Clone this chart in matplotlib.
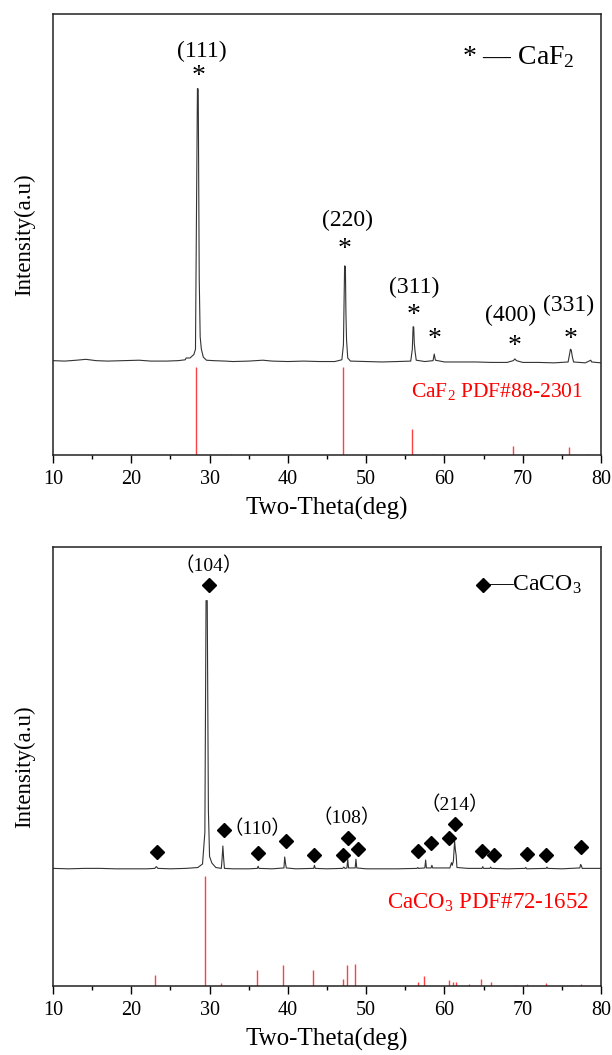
import numpy as np
import matplotlib
matplotlib.use("Agg")
import matplotlib.pyplot as plt
from matplotlib.ticker import MultipleLocator

plt.rcParams["font.family"] = ["Liberation Serif", "Noto Sans CJK SC"]
plt.rcParams["mathtext.fontset"] = "custom"
plt.rcParams["mathtext.rm"] = "Liberation Serif"
plt.rcParams["mathtext.it"] = "Liberation Serif"

# ---- CaF2 pattern (two-theta, intensity) ----
caf2_x = [10.0, 11.5, 13.0, 14.2, 15.5, 17.0, 19.0, 21.0, 22.5, 24.5, 26.0, 26.9, 27.0, 27.5,
          28.0, 28.2, 28.35, 28.45, 28.55, 28.68, 28.8, 28.95, 29.2, 29.6,
          30.5, 32.0, 33.0, 35.0, 36.8, 38.0, 40.0, 42.0, 44.0, 46.0, 46.9,
          47.1, 47.25, 47.35, 47.42, 47.5, 47.65, 48.0, 50.0, 52.0, 54.0, 55.7,
          55.9, 56.0, 56.08, 56.15, 56.25, 56.4, 57.5, 58.55, 58.7, 58.85,
          60.0, 62.0, 64.0, 66.0, 68.0, 68.8, 69.0, 69.2, 70.0, 72.0, 74.0,
          75.8, 76.0, 76.1, 76.2, 76.35, 76.5, 78.0, 78.7, 78.8, 80.0]
caf2_y = [21.4, 21.3, 21.5, 21.7, 21.4, 21.3, 21.4, 21.5, 21.3, 21.3, 21.4, 21.6, 22.0, 22.0,
          22.8, 24.0, 60.0, 83.1, 83.0, 40.0, 26.8, 24.0, 22.2, 21.5,
          21.4, 21.3, 21.2, 21.3, 21.5, 21.3, 21.2, 21.3, 21.2, 21.2, 21.6,
          25.0, 42.9, 42.7, 32.0, 26.0, 22.0, 21.3, 21.2, 21.1, 21.2, 21.3,
          24.0, 29.1, 29.0, 25.4, 23.5, 21.5, 21.2, 21.4, 22.9, 21.5,
          21.1, 21.1, 21.1, 21.0, 21.0, 21.4, 21.8, 21.4, 21.0, 21.0, 20.9,
          21.1, 23.0, 24.0, 23.8, 22.2, 21.1, 20.9, 21.5, 21.1, 20.9]

# CaF2 PDF#88-2301 reference lines
caf2_ref_x = [28.26, 32.8, 47.07, 55.8, 58.5, 68.77, 75.9, 78.2]
caf2_ref_h = [19.9, 0.3, 19.9, 5.9, 0.3, 2.0, 1.9, 0.3]

caf2_hkl = ["(111)", "(220)", "(311)", "(400)", "(331)"]
caf2_hkl_x = [28.96, 47.57, 56.15, 68.5, 75.9]
caf2_hkl_y = [91.6, 53.2, 38.0, 31.7, 34.0]
caf2_star_x = [28.6, 47.27, 56.0, 58.7, 69.0, 76.1]
caf2_star_y = [85.9, 46.5, 31.7, 26.1, 24.6, 26.3]

# ---- CaCO3 pattern ----
caco3_x = [10, 12, 14, 16, 18, 20, 22, 23.0, 23.2, 23.4, 25, 27, 28.5, 29.1, 29.4, 29.55,
           29.7, 29.85, 30.0, 30.3, 30.8, 31.5, 31.6, 31.7, 31.8, 31.9, 33, 35, 36.1,
           36.2, 36.3, 38, 39.5, 39.6, 39.7, 39.8, 41, 43.3, 43.4, 43.5, 45, 47.0, 47.15,
           47.3, 47.55, 47.65, 47.75, 48.6, 48.7, 48.8, 50, 52, 54, 56.5, 56.6, 56.7,
           57.5, 57.6, 57.7, 58.3, 58.4, 58.5, 60.7, 60.9, 61.0, 61.15, 61.3, 61.4,
           61.5, 61.6, 63, 64.8, 64.9, 65.0, 65.8, 65.9, 66.0, 68, 70.3, 70.4, 70.5,
           73.0, 73.1, 73.2, 75, 77.3, 77.4, 77.5, 77.6, 80]
caco3_y = [26.8, 26.7, 26.8, 26.8, 26.7, 26.7, 26.7, 26.8, 27.2, 26.8, 26.7, 26.8, 27.0, 27.8, 35.0, 87.8,
           87.8, 40.0, 29.5, 28.0, 27.0, 26.8, 29.0, 31.9, 29.0, 26.8, 26.7, 26.7, 26.8,
           27.3, 26.8, 26.7, 26.9, 29.4, 28.0, 26.9, 26.7, 26.8, 27.5, 26.8, 26.7, 26.8, 27.1,
           26.8, 26.9, 28.9, 26.9, 26.9, 28.9, 26.9, 26.7, 26.7, 26.7, 26.8, 27.0, 26.8,
           26.9, 28.7, 26.9, 26.9, 27.5, 26.9, 26.9, 28.1, 27.5, 28.5, 33.0, 31.0,
           29.8, 27.0, 26.8, 26.8, 27.2, 26.8, 26.8, 27.1, 26.8, 26.7, 26.8, 27.0, 26.7,
           26.8, 27.1, 26.8, 26.7, 26.9, 27.7, 27.4, 26.8, 26.8]

# CaCO3 PDF#72-1652 reference lines
caco3_ref_x = [23.0, 29.4, 31.5, 36.0, 39.4, 43.2, 47.1, 47.6, 48.6, 56.6, 57.4, 60.6,
               61.1, 61.5, 63.1, 64.7, 65.9, 69.2, 70.5, 73.0, 76.2, 77.4]
caco3_ref_h = [2.4, 25.1, 0.6, 3.6, 4.7, 3.7, 1.7, 4.7, 4.9, 0.8, 2.3, 1.3,
               0.8, 0.8, 0.4, 1.5, 0.8, 0.3, 0.45, 0.6, 0.3, 0.4]

caco3_dia_x = [23.3, 29.9, 31.8, 36.2, 39.75, 43.4, 47.0, 47.7, 49.0, 56.6, 58.3,
               60.6, 61.4, 64.8, 66.3, 70.6, 73.0, 77.4]
caco3_dia_y = [30.5, 91.3, 35.6, 30.3, 33.0, 29.9, 29.9, 33.8, 31.2, 30.7, 32.6,
               33.8, 36.8, 30.7, 29.9, 30.1, 29.9, 31.6]
caco3_hkl = ["（104）", "（110）", "（108）", "（214）"]
caco3_hkl_x = [29.9, 36.1, 47.5, 61.3]
caco3_hkl_y = [95.7, 35.8, 38.2, 41.2]

fig = plt.figure(figsize=(6.12, 10.55), dpi=100)
ax1 = fig.add_axes([0.0866, 0.5687, 0.8954, 0.418])
ax2 = fig.add_axes([0.0866, 0.0654, 0.8954, 0.416])

for ax in (ax1, ax2):
    ax.set_xlim(10, 80)
    ax.set_ylim(0, 100)
    ax.set_yticks([])
    ax.xaxis.set_major_locator(MultipleLocator(10))
    ax.xaxis.set_minor_locator(MultipleLocator(5))
    ax.tick_params(axis="x", which="major", direction="out", length=6, width=1.0,
                   labelsize=14.5, pad=4.5)
    ax.tick_params(axis="x", which="minor", direction="out", length=3, width=1.0)
    for s in ax.spines.values():
        s.set_linewidth(1.1)
        s.set_color("#222222")
    ax.set_xlabel("Two-Theta(deg)", fontsize=18, labelpad=6)
    ax.set_ylabel("Intensity(a.u)", fontsize=16.5, labelpad=13)

# top panel
ax1.plot(caf2_x, caf2_y, color="#333333", lw=0.8)
ax1.vlines(caf2_ref_x, 0, caf2_ref_h, color="#ff4040", lw=1.0)
for t, x, y in zip(caf2_hkl, caf2_hkl_x, caf2_hkl_y):
    ax1.text(x, y, t, ha="center", va="center", fontsize=17)
for x, y in zip(caf2_star_x, caf2_star_y):
    ax1.text(x, y, "*", ha="center", va="center", fontsize=20)
ax1.text(62.2, 90.3, "* — CaF$_2$", ha="left", va="center", fontsize=20)
ax1.text(55.7, 14.3, "CaF$_2$ PDF#88-2301", ha="left", va="center", fontsize=15.5, color="red")

# bottom panel
ax2.plot(caco3_x, caco3_y, color="#333333", lw=0.8)
ax2.vlines(caco3_ref_x, 0, caco3_ref_h, color="#ff4040", lw=1.0)
ax2.plot(caco3_dia_x, caco3_dia_y, "D", color="black", ms=7, ls="none")
for t, x, y in zip(caco3_hkl, caco3_hkl_x, caco3_hkl_y):
    ax2.text(x, y, t, ha="center", va="center", fontsize=14)
ax2.plot([64.9], [91.3], "D", color="black", ms=7)
ax2.text(65.7, 91.3, "—CaCO$_3$", ha="left", va="center", fontsize=17)
ax2.text(52.65, 19.0, "CaCO$_3$ PDF#72-1652", ha="left", va="center", fontsize=16.5, color="red")

fig.savefig("out.png", dpi=100)
